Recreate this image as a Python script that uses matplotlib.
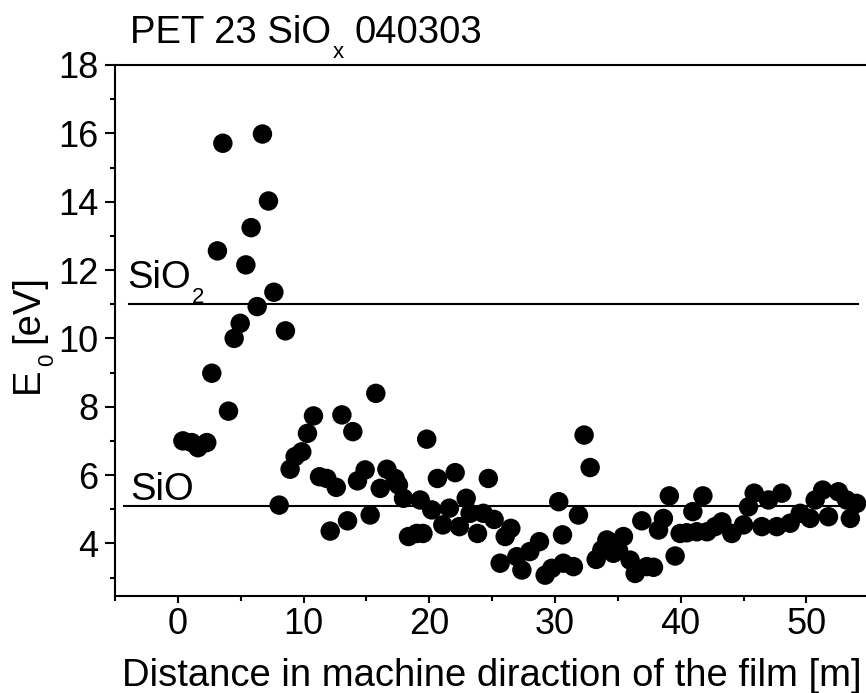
import matplotlib
matplotlib.use("Agg")
import matplotlib.pyplot as plt
from matplotlib.ticker import MultipleLocator

plt.rcParams['font.family'] = ['Liberation Sans', 'DejaVu Sans']

# Measured band-gap energy E0 along the film
distance_m = [
    0.4, 1.1, 1.6, 2.3, 2.7, 3.15, 3.58, 4.03, 4.48, 4.96, 5.41, 5.83, 6.31,
    6.73, 7.21, 7.64, 8.06, 8.56, 8.93, 9.33, 9.86, 10.31, 10.79, 11.27,
    11.85, 12.12, 12.6, 13.05, 13.5, 13.92, 14.29, 14.9, 15.3, 15.75, 16.1,
    16.63, 17.29, 17.55, 17.95, 18.35, 19.0, 19.28, 19.5, 19.8, 20.2, 20.65,
    21.08, 21.6, 22.06, 22.4, 22.94, 23.25, 23.84, 24.3, 24.7, 25.16, 25.64,
    26.04, 26.49, 26.97, 27.37, 28.0, 28.77, 29.22, 29.75, 30.3, 30.6, 30.67,
    31.47, 31.87, 32.32, 32.8, 33.28, 33.73, 34.13, 34.65, 35.05, 35.45,
    35.98, 36.38, 36.91, 37.31, 37.84, 38.24, 38.63, 39.1, 39.56, 39.96,
    40.49, 40.97, 41.29, 41.77, 42.1, 42.74, 43.28, 44.07, 45.0, 45.4, 45.85,
    46.46, 46.99, 47.65, 48.05, 48.71, 49.51, 50.3, 50.7, 51.3, 51.76, 52.55,
    53.2, 53.5, 54.0,
]
e0_ev = [
    7.0, 6.95, 6.8, 6.95, 8.98, 12.56, 15.71, 7.87, 10.0, 10.44, 12.15,
    13.24, 10.93, 15.98, 14.02, 11.35, 5.12, 10.22, 6.17, 6.54, 6.68, 7.22,
    7.73, 5.95, 5.9, 4.36, 5.64, 7.76, 4.66, 7.27, 5.83, 6.15, 4.83, 8.39,
    5.61, 6.17, 5.9, 5.71, 5.32, 4.2, 4.29, 5.27, 4.29, 7.05, 4.98, 5.9,
    4.54, 5.03, 6.07, 4.49, 5.32, 4.88, 4.29, 4.88, 5.9, 4.7, 3.42, 4.2,
    4.44, 3.61, 3.22, 3.76, 4.05, 3.07, 3.27, 5.22, 4.25, 3.42, 3.32, 4.83,
    7.17, 6.22, 3.53, 3.81, 4.1, 3.71, 3.81, 4.2, 3.51, 3.12, 4.66, 3.32,
    3.3, 4.39, 4.73, 5.39, 3.63, 4.29, 4.31, 4.93, 4.34, 5.39, 4.34, 4.49,
    4.63, 4.29, 4.54, 5.07, 5.47, 4.49, 5.27, 4.49, 5.47, 4.59, 4.88, 4.73,
    5.27, 5.56, 4.78, 5.51, 5.27, 4.73, 5.17,
]

# Reference levels for stoichiometric oxides: (main text, subscript)
ref_names = [('SiO', '2'), ('SiO', '')]
ref_levels = [11.0, 5.1]
ref_line_start = [-3.9, -4.3]
ref_line_end = [54.1, 54.1]
ref_label_x = [-4.05, -3.8]
ref_label_y = [11.47, 5.27]

TICK_FS = 26
LABEL_FS = 27.5
SUB_FS = 16
SUB_DROP = 15          # px between the main baseline and the subscript baseline
W, H = 866, 693
fig = plt.figure(figsize=(W / 100, H / 100), dpi=100)
renderer = fig.canvas.get_renderer()
ax = fig.add_axes([115 / W, 97 / H, 754.2 / W, 531 / H])

ax.scatter(distance_m, e0_ev, s=14 ** 2, color='black', edgecolors='none',
           zorder=3, clip_on=False)

ax.set_xlim(-5, 55)
ax.set_ylim(2.46, 18)
ax.xaxis.set_minor_locator(MultipleLocator(5))
ax.yaxis.set_minor_locator(MultipleLocator(1))
ax.set_xticks([0, 10, 20, 30, 40, 50])
ax.set_yticks([4, 6, 8, 10, 12, 14, 16, 18])

ax.spines['right'].set_visible(False)
for sp in ax.spines.values():
    sp.set_linewidth(1.5)
ax.tick_params(which='both', direction='out', width=1.5, labelsize=TICK_FS)
ax.tick_params(axis='x', which='major', length=5, pad=3)
ax.tick_params(axis='x', which='minor', length=3.5)
ax.tick_params(axis='y', which='major', length=7, pad=5)
ax.tick_params(axis='y', which='minor', length=3.5)


def fig_text_px(x, y, s, **kw):
    """Place text at display pixel coordinates (origin bottom-left)."""
    return fig.text(x / W, y / H, s, **kw)


for lvl, x0, x1 in zip(ref_levels, ref_line_start, ref_line_end):
    ax.plot([x0, x1], [lvl, lvl], color='black', lw=1.5, zorder=2)
for (name, sub), lx, ly in zip(ref_names, ref_label_x, ref_label_y):
    t = ax.text(lx, ly, name, fontsize=LABEL_FS, ha='left', va='baseline')
    if sub:
        bb = t.get_window_extent(renderer)
        base_y = ax.transData.transform((lx, ly))[1]
        fig_text_px(bb.x1 + 1, base_y - SUB_DROP, sub, fontsize=SUB_FS,
                    ha='left', va='baseline')

# Title with subscripted x
title_base = H - 43
t1 = fig_text_px(130, title_base, 'PET 23 SiO', fontsize=LABEL_FS,
                 ha='left', va='baseline')
bb = t1.get_window_extent(renderer)
t2 = fig_text_px(bb.x1 + 2, title_base - SUB_DROP, 'x', fontsize=SUB_FS,
                 ha='left', va='baseline')
bb = t2.get_window_extent(renderer)
fig_text_px(bb.x1 + 10, title_base, '040303', fontsize=LABEL_FS,
            ha='left', va='baseline')

# X axis label
fig_text_px(492, H - 686, 'Distance in machine diraction of the film [m]',
            fontsize=LABEL_FS, ha='center', va='baseline')

# Y axis label, rotated, with subscripted 0
ylab_base_x = 38
rot = dict(rotation=90, rotation_mode='anchor', ha='left', va='baseline')
e = fig_text_px(ylab_base_x, H - 393, 'E', fontsize=LABEL_FS, **rot)
bb = e.get_window_extent(renderer)
z = fig_text_px(ylab_base_x + SUB_DROP, bb.y1 + 2, '0', fontsize=SUB_FS, **rot)
bb = z.get_window_extent(renderer)
fig_text_px(ylab_base_x, bb.y1 + 10, '[eV]', fontsize=LABEL_FS, **rot)

fig.savefig('out.png', dpi=100)
